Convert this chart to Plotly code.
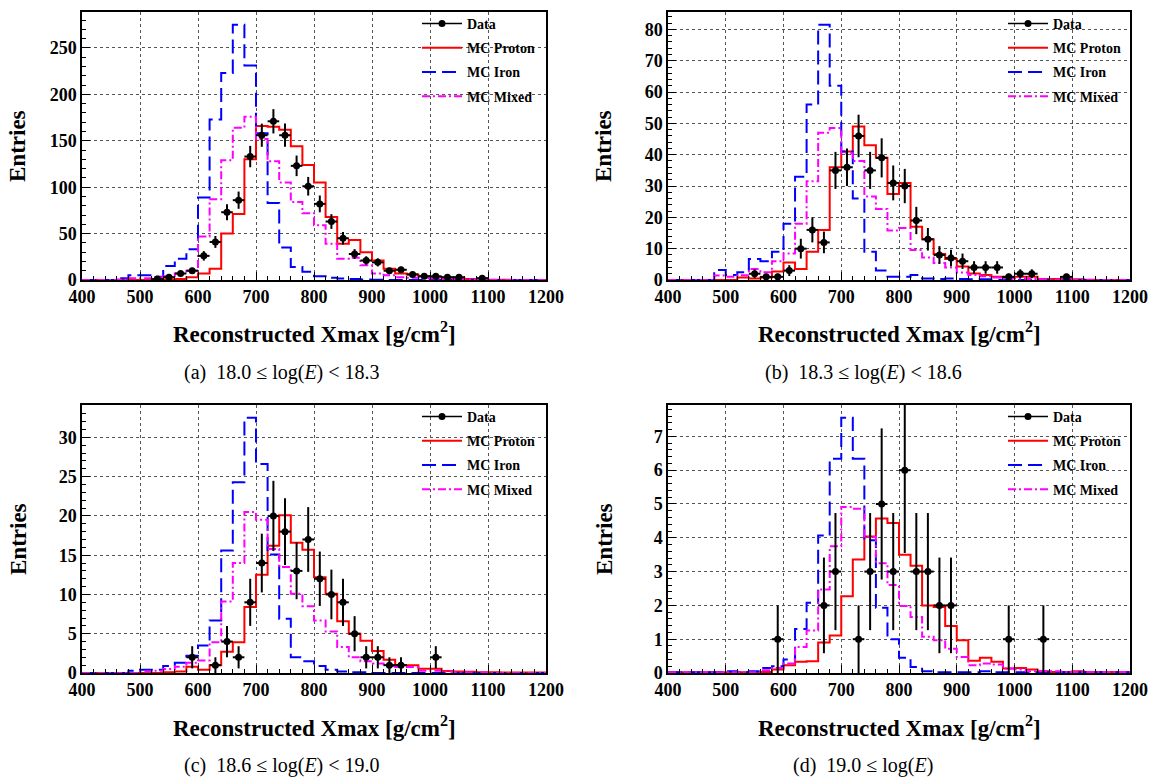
import numpy as np
import plotly.graph_objects as go

# ---------------- data ----------------
BIN_EDGES = [400, 420, 440, 460, 480, 500, 520, 540, 560, 580, 600, 620, 640, 660, 680,
             700, 720, 740, 760, 780, 800, 820, 840, 860, 880, 900, 920, 940, 960, 980,
             1000, 1020, 1040, 1060, 1080, 1100, 1120, 1140, 1160, 1180, 1200]
BIN_CENTERS = [410, 430, 450, 470, 490, 510, 530, 550, 570, 590, 610, 630, 650, 670, 690,
               710, 730, 750, 770, 790, 810, 830, 850, 870, 890, 910, 930, 950, 970, 990,
               1010, 1030, 1050, 1070, 1090, 1110, 1130, 1150, 1170, 1190]

# (a) 18.0 <= log(E) < 18.3
PROTON_A = [0, 0, 0, 0, 0, 0, 0, 0.5, 1, 3, 7, 12, 50, 71, 130, 166, 165, 162, 144, 124,
            105, 68, 39, 43, 30, 21, 12, 7, 6, 4, 3, 2.5, 1.5, 1, 0.8, 0.4, 0.2, 0, 0, 0]
IRON_A = [0, 0, 0, 2, 5, 5, 3.5, 15, 23, 33, 89, 173, 223, 275, 231, 158, 83, 35, 14, 9,
          4, 2.5, 1.5, 1, 0.5, 0.3, 0, 0, 0, 0, 0, 0, 0, 0, 0, 0, 0, 0, 0, 0]
MIXED_A = [0, 0, 0, 0.5, 2, 2, 3, 4, 7, 10, 47, 87, 129, 164, 176, 152, 128, 105, 84, 72,
           59, 39, 23, 24, 16, 7, 5, 3, 2.5, 2, 1.5, 1, 0.5, 0.5, 0.3, 0, 0, 0, 0, 0]
DATA_A = [0, 0, 0, 0, 0, 0, 1, 3, 7, 10, 26, 41, 73, 86, 133, 156, 171, 156, 123, 101,
          82, 63, 45, 28, 21, 19, 10, 11, 6, 4, 4, 3, 3, 0, 2, 0, 0, 0, 0, 0]

# (b) 18.3 <= log(E) < 18.6
PROTON_B = [0, 0, 0, 0, 0, 0, 0.8, 0.5, 0.8, 2.7, 5.6, 3.5, 9, 16, 36, 41, 49, 43, 39, 27.5,
            31, 17, 13, 8.3, 6.7, 4.3, 2.1, 1.6, 1, 0.8, 1, 1, 0.3, 0.3, 0.3, 0.2, 0.1, 0, 0, 0]
IRON_B = [0, 0, 0, 0, 3.2, 1.6, 2.5, 6.7, 6.0, 9, 18, 33, 56, 81.5, 62, 41, 26, 9, 3, 1,
          1, 1.6, 0.5, 0.3, 0.5, 0.3, 0.2, 0.2, 0.1, 0.1, 0, 0, 0, 0, 0, 0, 0, 0, 0, 0]
MIXED_B = [0, 0, 0, 0, 1.4, 1, 1.5, 3.5, 2.5, 6, 8.5, 18, 31.5, 47, 48.5, 40.5, 38, 26.7, 22.7, 15.8,
           16.6, 9.6, 7.2, 5.4, 4, 2.4, 1.6, 1.2, 0.8, 0.5, 0.5, 0.3, 0.2, 0.1, 0.1, 0, 0, 0, 0, 0]
DATA_B = [0, 0, 0, 0, 0, 0, 0, 2, 1, 1, 3, 10, 16, 12, 35, 36, 46, 35, 39, 31,
          30, 19, 13, 8, 7, 6, 4, 4, 4, 1, 2, 2, 0, 0, 1, 0, 0, 0, 0, 0]

# (c) 18.6 <= log(E) < 19.0
PROTON_C = [0, 0, 0, 0, 0, 0, 0, 0.1, 0.2, 0.8, 0.4, 1.0, 2.7, 3.9, 8.4, 12.5, 16.2, 20.1, 16.6, 15.7,
            12.2, 10.1, 6.6, 5.0, 4.1, 2.8, 1.7, 1.0, 1.0, 0.55, 0.55, 0.25, 0.2, 0.15, 0.1, 0.1,
            0.05, 0.05, 0.05, 0.05]
IRON_C = [0, 0, 0, 0, 0.3, 0.4, 0.4, 0.9, 1.3, 2.2, 3.5, 6.7, 15.6, 24.3, 32.5, 26.6, 15.1, 6.9, 2.0, 1.5,
          0.9, 0.4, 0.2, 0.1, 0.1, 0, 0, 0, 0, 0, 0, 0, 0, 0, 0, 0, 0, 0, 0, 0]
MIXED_C = [0, 0, 0, 0, 0, 0.2, 0.3, 0.5, 0.8, 1.3, 1.6, 3.9, 9.1, 14, 20.5, 19.5, 15.8, 13.5, 10.1, 8.5,
           6.7, 5.3, 3.3, 2.0, 1.5, 1.2, 0.9, 0.75, 0.75, 0.3, 0.3, 0.2, 0.1, 0.1, 0.05, 0, 0, 0, 0, 0]
DATA_C = [0, 0, 0, 0, 0, 0, 0, 0, 0, 2, 0, 1, 4, 2, 9, 14, 20, 18, 13, 17,
          12, 10, 9, 5, 2, 2, 1, 1, 0, 0, 2, 0, 0, 0, 0, 0, 0, 0, 0, 0]

# (d) 19.0 <= log(E)
PROTON_D = [0.02, 0.02, 0.02, 0.02, 0.02, 0.02, 0.02, 0.02, 0.03, 0.1, 0.23, 0.33, 0.35, 0.9, 1.11,
            2.27, 3.36, 4.04, 4.57, 4.44, 3.5, 3.17, 2.0, 1.95, 1.39, 0.97, 0.36, 0.45, 0.33, 0.13,
            0.15, 0.1, 0.05, 0.03, 0.03, 0.05, 0.03, 0.03, 0.03, 0.03]
IRON_D = [0.02, 0.02, 0.02, 0.02, 0.02, 0.05, 0.03, 0.05, 0.15, 0.2, 0.4, 1.3, 2.08, 4.07, 6.34,
          7.55, 6.34, 3.93, 1.93, 1.0, 0.45, 0.18, 0.05, 0.02, 0.02, 0.02, 0.02, 0.05, 0.02, 0.02,
          0.02, 0.02, 0.02, 0.02, 0.02, 0.02, 0.02, 0.02, 0.02, 0.02]
MIXED_D = [0.02, 0.02, 0.02, 0.02, 0.02, 0.02, 0.02, 0.02, 0.08, 0.15, 0.28, 0.77, 1.26, 2.47, 3.75,
           4.91, 4.86, 4.02, 3.25, 2.6, 1.98, 1.66, 1.07, 0.97, 0.72, 0.47, 0.23, 0.28, 0.25, 0.13,
           0.1, 0.05, 0.05, 0.05, 0.03, 0.03, 0.03, 0.03, 0.03, 0.03]
DATA_D = [0, 0, 0, 0, 0, 0, 0, 0, 0, 1, 0, 0, 0, 2, 3, 0, 1, 3, 5, 3,
          6, 3, 3, 2, 2, 0, 0, 0, 0, 1, 0, 0, 1, 0, 0, 0, 0, 0, 0, 0]

CAPTIONS = ["(a)&nbsp; 18.0 \u2264 log(<i>E</i>) &lt; 18.3",
            "(b)&nbsp; 18.3 \u2264 log(<i>E</i>) &lt; 18.6",
            "(c)&nbsp; 18.6 \u2264 log(<i>E</i>) &lt; 19.0",
            "(d)&nbsp; 19.0 \u2264 log(<i>E</i>)"]
Y_DTICK = [50, 10, 5, 1]
Y_MINOR = [10, 2, 1, 0.2]
LEGEND_NAMES = ["Data", "MC Proton", "MC Iron", "MC Mixed"]

PANELS = [
    dict(proton=PROTON_A, iron=IRON_A, mixed=MIXED_A, data=DATA_A),
    dict(proton=PROTON_B, iron=IRON_B, mixed=MIXED_B, data=DATA_B),
    dict(proton=PROTON_C, iron=IRON_C, mixed=MIXED_C, data=DATA_C),
    dict(proton=PROTON_D, iron=IRON_D, mixed=MIXED_D, data=DATA_D),
]
for p in PANELS:
    for k in ("proton", "iron", "mixed", "data"):
        assert len(p[k]) == 40, k

# ---------------- layout geometry (page pixels) ----------------
W, H = 1151, 778
FRAMES = [  # left, right, top, bottom
    (82, 546, 12, 280),
    (668, 1130, 12, 280),
    (82, 546, 405, 673),
    (668, 1130, 405, 673),
]
CAPTION_CX = [282, 863, 282, 863]
LEGEND_LEFT = [417, 1003, 417, 1003]


def px(x):
    return x / W


def py(y):
    return 1 - y / H


SERIF = "Liberation Serif"
RED = "#ff0000"
BLUE = "#0000ff"
MAGENTA = "#ff00ff"

fig = go.Figure()
layout = dict(
    width=W, height=H, margin=dict(l=0, r=0, t=0, b=0, autoexpand=False),
    paper_bgcolor="white", plot_bgcolor="white", showlegend=True,
    annotations=[],
)

for i, (p, fr) in enumerate(zip(PANELS, FRAMES)):
    n = "" if i == 0 else str(i + 1)
    xa, ya = "x" + n, "y" + n
    leg = "legend" + n
    l, r, t, b = fr

    def step_y(v):
        return list(v) + [v[-1]]

    # legend proxy for data (line + dot)
    fig.add_trace(go.Scatter(
        x=[None], y=[None], mode="lines+markers", name=LEGEND_NAMES[0],
        line=dict(color="black", width=1.5), marker=dict(color="black", size=7),
        xaxis=xa, yaxis=ya, legend=leg, legendgroup=f"{i}data", showlegend=True))
    fig.add_trace(go.Scatter(
        x=BIN_EDGES, y=step_y(p["proton"]), mode="lines", line_shape="hv",
        name=LEGEND_NAMES[1], line=dict(color=RED, width=2),
        xaxis=xa, yaxis=ya, legend=leg, legendgroup=f"{i}p"))
    fig.add_trace(go.Scatter(
        x=BIN_EDGES, y=step_y(p["iron"]), mode="lines", line_shape="hv",
        name=LEGEND_NAMES[2], line=dict(color=BLUE, width=2, dash="14px,6px"),
        xaxis=xa, yaxis=ya, legend=leg, legendgroup=f"{i}fe"))
    fig.add_trace(go.Scatter(
        x=BIN_EDGES, y=step_y(p["mixed"]), mode="lines", line_shape="hv",
        name=LEGEND_NAMES[3], line=dict(color=MAGENTA, width=2, dash="8px,3px,2px,3px"),
        xaxis=xa, yaxis=ya, legend=leg, legendgroup=f"{i}mix"))
    dx = [c for c, v in zip(BIN_CENTERS, p["data"]) if v > 0]
    dy = [v for v in p["data"] if v > 0]
    fig.add_trace(go.Scatter(
        x=dx, y=dy, mode="markers", marker=dict(color="black", size=7),
        error_y=dict(type="data", array=np.sqrt(dy), thickness=2, width=0, color="black"),
        error_x=dict(type="constant", value=10, thickness=2, width=0, color="black"),
        xaxis=xa, yaxis=ya, showlegend=False, legend=leg))

    ymax = 1.05 * max(p["iron"])
    common = dict(
        automargin=False,
        showline=True, linecolor="black", linewidth=1.5, mirror=True,
        ticks="inside", ticklen=8, tickwidth=1, tickcolor="black",
        showgrid=True, gridcolor="#555555", griddash="dot", gridwidth=1,
        zeroline=False,
        tickfont=dict(family=SERIF, size=18, color="black", weight="bold"),
    )
    layout["xaxis" + n] = dict(
        common, domain=[px(l), px(r)], anchor=ya, range=[400, 1200],
        tick0=400, dtick=100, ticklabelstandoff=0,
        minor=dict(dtick=20, ticks="inside", ticklen=4, tickcolor="black", showgrid=False))
    layout["yaxis" + n] = dict(
        common, domain=[py(b), py(t)], anchor=xa, range=[0, ymax],
        tick0=0, dtick=Y_DTICK[i], ticklabelstandoff=0,
        minor=dict(dtick=Y_MINOR[i], ticks="inside", ticklen=4, tickcolor="black", showgrid=False))
    layout[leg] = dict(
        x=px(LEGEND_LEFT[i]), y=py(t - 4), xanchor="left", yanchor="top",
        bgcolor="rgba(0,0,0,0)", borderwidth=0,
        font=dict(family=SERIF, size=14, color="black", weight="bold"),
        itemwidth=40, traceorder="grouped", tracegroupgap=3)

    cx = (l + r) / 2
    layout["annotations"] += [
        dict(text="Reconstructed Xmax [g/cm<sup>2</sup>]", xref="paper", yref="paper",
             x=px(cx), y=py(b + 53), xanchor="center", yanchor="middle", showarrow=False,
             font=dict(family=SERIF, size=23, color="black", weight="bold")),
        dict(text="Entries", xref="paper", yref="paper", textangle=-90,
             x=px(l - 64), y=py((t + b) / 2), xanchor="center", yanchor="middle", showarrow=False,
             font=dict(family=SERIF, size=23, color="black", weight="bold")),
        dict(text=CAPTIONS[i], xref="paper", yref="paper",
             x=px(CAPTION_CX[i]), y=py(b + 92), xanchor="center", yanchor="middle", showarrow=False,
             font=dict(family=SERIF, size=20, color="black")),
    ]

fig.update_layout(**layout)
fig.write_html(
    "out.html",
    config={"displayModeBar": False},
    post_script="document.body.style.margin='0px'; document.body.style.overflow='hidden';",
)
